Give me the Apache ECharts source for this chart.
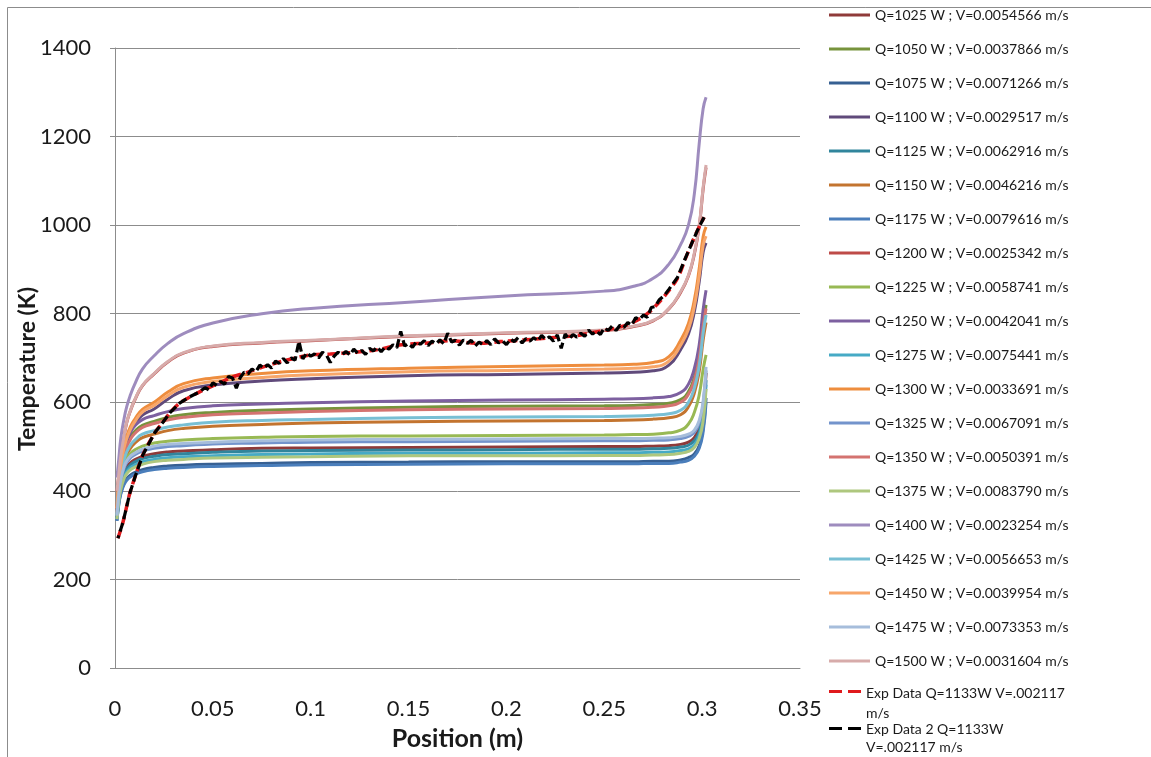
<!DOCTYPE html>
<html>
<head>
<meta charset="utf-8">
<script src="https://cdn.jsdelivr.net/npm/echarts@6/dist/echarts.min.js"></script>
<style>
  html, body { margin: 0; padding: 0; background: #ffffff; }
  #chart { width: 1151px; height: 757px; }
</style>
</head>
<body>
<div id="chart"></div>
<script>
// Axial positions (m) shared by every model curve
const POS = [0.001, 0.002, 0.003, 0.0045, 0.006, 0.008, 0.01, 0.014, 0.02, 0.027, 0.035, 0.05, 0.075, 0.1, 0.15, 0.2, 0.25,
             0.265, 0.275, 0.283, 0.289, 0.293, 0.296, 0.2985, 0.3005, 0.302];

// Model temperatures (K) for each heat input / velocity case
const T1025 = [340, 388, 416, 440, 454, 464, 470, 478, 484, 488, 490, 493, 496, 497, 498, 499, 500, 500, 501, 502, 505, 510, 520, 542, 586, 666];
const T1050 = [353, 411, 452, 484, 504, 522, 534, 548, 557, 566, 572, 577, 582, 585, 589, 591, 592, 593, 595, 598, 606, 624, 656, 706, 779, 820];
const T1075 = [333, 373, 396, 416, 428, 436, 441, 448, 453, 456, 458, 460, 462, 464, 465, 466, 466, 466, 467, 467, 470, 475, 483, 502, 541, 610];
const T1100 = [359, 417, 454, 490, 512, 534, 549, 571, 585, 607, 626, 639, 648, 653, 660, 663, 666, 668, 671, 684, 719, 754, 804, 872, 939, 960];
const T1125 = [339, 385, 413, 436, 449, 459, 465, 473, 478, 482, 484, 487, 490, 491, 492, 493, 494, 494, 495, 496, 499, 503, 513, 533, 575, 650];
const T1150 = [347, 398, 435, 463, 481, 497, 507, 520, 528, 536, 541, 546, 550, 553, 556, 558, 559, 560, 562, 565, 572, 590, 621, 670, 740, 780];
const T1175 = [332, 371, 393, 413, 424, 432, 437, 443, 448, 451, 453, 455, 457, 459, 460, 461, 461, 461, 462, 462, 465, 469, 478, 496, 533, 600];
const T1200 = [399, 439, 479, 519, 554, 582, 604, 637, 664, 691, 711, 726, 734, 739, 749, 756, 762, 771, 784, 811, 848, 885, 934, 997, 1081, 1130];
const T1225 = [345, 399, 431, 458, 474, 485, 492, 501, 508, 512, 515, 518, 521, 523, 524, 525, 526, 527, 528, 531, 537, 551, 577, 617, 674, 707];
const T1250 = [355, 417, 460, 493, 515, 533, 546, 561, 570, 579, 586, 592, 596, 599, 603, 605, 607, 608, 610, 613, 622, 641, 676, 730, 809, 853];
const T1275 = [337, 382, 408, 430, 443, 453, 458, 466, 471, 475, 477, 479, 482, 483, 485, 485, 486, 486, 487, 488, 491, 495, 504, 525, 566, 640];
const T1300 = [361, 423, 461, 500, 523, 546, 561, 584, 600, 623, 642, 655, 665, 671, 677, 681, 684, 686, 690, 703, 740, 778, 831, 902, 974, 996];
const T1325 = [343, 394, 424, 449, 464, 475, 481, 490, 496, 500, 502, 506, 508, 510, 511, 512, 513, 513, 514, 515, 518, 523, 532, 553, 596, 672];
const T1350 = [351, 409, 449, 480, 500, 517, 529, 543, 552, 560, 566, 572, 576, 579, 583, 585, 586, 587, 589, 592, 600, 618, 649, 699, 771, 812];
const T1375 = [336, 379, 404, 426, 439, 448, 453, 460, 466, 469, 471, 474, 476, 477, 479, 479, 480, 480, 481, 482, 485, 489, 498, 518, 558, 630];
const T1400 = [430, 475, 520, 560, 590, 618, 640, 675, 705, 733, 755, 779, 800, 812, 826, 840, 851, 862, 880, 912, 956, 1000, 1070, 1184, 1263, 1289];
const T1425 = [348, 402, 439, 469, 488, 504, 514, 528, 536, 544, 549, 555, 559, 561, 565, 567, 568, 569, 571, 574, 582, 600, 632, 683, 756, 797];
const T1450 = [360, 420, 458, 495, 518, 540, 555, 578, 593, 615, 634, 647, 656, 662, 669, 672, 675, 677, 680, 693, 729, 765, 816, 885, 954, 975];
const T1475 = [344, 396, 426, 453, 468, 479, 485, 494, 501, 505, 507, 510, 513, 515, 516, 517, 518, 518, 519, 520, 523, 528, 537, 559, 602, 680];
const T1500 = [400, 440, 480, 520, 555, 583, 605, 638, 665, 692, 712, 727, 735, 740, 750, 757, 763, 772, 785, 812, 850, 887, 937, 1000, 1085, 1136];

const MODEL_NAMES = [
  'Q=1025 W ; V=0.0054566 m/s', 'Q=1050 W ; V=0.0037866 m/s', 'Q=1075 W ; V=0.0071266 m/s',
  'Q=1100 W ; V=0.0029517 m/s', 'Q=1125 W ; V=0.0062916 m/s', 'Q=1150 W ; V=0.0046216 m/s',
  'Q=1175 W ; V=0.0079616 m/s', 'Q=1200 W ; V=0.0025342 m/s', 'Q=1225 W ; V=0.0058741 m/s',
  'Q=1250 W ; V=0.0042041 m/s', 'Q=1275 W ; V=0.0075441 m/s', 'Q=1300 W ; V=0.0033691 m/s',
  'Q=1325 W ; V=0.0067091 m/s', 'Q=1350 W ; V=0.0050391 m/s', 'Q=1375 W ; V=0.0083790 m/s',
  'Q=1400 W ; V=0.0023254 m/s', 'Q=1425 W ; V=0.0056653 m/s', 'Q=1450 W ; V=0.0039954 m/s',
  'Q=1475 W ; V=0.0073353 m/s', 'Q=1500 W ; V=0.0031604 m/s'
];
const MODEL_T = [T1025, T1050, T1075, T1100, T1125, T1150, T1175, T1200, T1225, T1250,
                 T1275, T1300, T1325, T1350, T1375, T1400, T1425, T1450, T1475, T1500];
const MODEL_COLORS = [
  '#8f3a39', '#77933c', '#376092', '#604a7b', '#31859c', '#c3742f', '#4a7ebb', '#be4b48', '#98b954', '#7d60a0',
  '#46aac5', '#ee8d3e', '#7394cc', '#d47370', '#aec77e', '#9e8cbe', '#78bfd4', '#f7a66a', '#a6bddb', '#d7abaa'
];

// Measured profile, run 1
const EXP1_X = [0.0015, 0.004, 0.0076, 0.0102, 0.0142, 0.0203, 0.0245, 0.028, 0.033, 0.043, 0.053, 0.06,
                0.068, 0.075, 0.0875, 0.1, 0.11, 0.12, 0.133, 0.1465, 0.16, 0.172, 0.185, 0.197, 0.21, 0.223,
                0.235, 0.245, 0.255, 0.2635, 0.272, 0.2808, 0.2874, 0.2915, 0.295, 0.2976, 0.301];
const EXP1_T = [293, 328, 395, 431, 481, 531, 555, 576, 598, 623, 643, 657,
                668, 679, 695, 707, 709, 712, 718, 730, 734, 739, 733, 737, 741, 746,
                750, 758, 767, 778, 800, 840, 880, 925, 962, 988, 1018];

// Measured profile, run 2 (noisy thermocouple trace)
const EXP2_X = [0.0015, 0.004, 0.0076, 0.0102, 0.0142, 0.0203, 0.0245, 0.028, 0.033, 0.038, 0.043,
  0.046, 0.048, 0.050, 0.052, 0.054, 0.056, 0.058, 0.060, 0.062, 0.064, 0.066, 0.068, 0.070, 0.072, 0.074,
  0.076, 0.078, 0.080, 0.082, 0.084, 0.086, 0.088, 0.090, 0.092, 0.094, 0.096, 0.098, 0.100, 0.102, 0.104,
  0.106, 0.108, 0.110, 0.112, 0.114, 0.116, 0.118, 0.120, 0.122, 0.124, 0.126, 0.128, 0.130, 0.132, 0.134,
  0.136, 0.138, 0.140, 0.142, 0.144, 0.146, 0.148, 0.150, 0.152, 0.154, 0.156, 0.158, 0.160, 0.162, 0.164,
  0.166, 0.168, 0.170, 0.172, 0.174, 0.176, 0.178, 0.180, 0.182, 0.184, 0.186, 0.188, 0.190, 0.192, 0.194,
  0.196, 0.198, 0.200, 0.202, 0.204, 0.206, 0.208, 0.210, 0.212, 0.214, 0.216, 0.218, 0.220, 0.222, 0.224,
  0.226, 0.228, 0.230, 0.232, 0.234, 0.236, 0.238, 0.240, 0.242, 0.244, 0.246, 0.248, 0.250, 0.252, 0.254,
  0.256, 0.258, 0.260, 0.262, 0.264, 0.266, 0.268, 0.270, 0.272, 0.274, 0.276, 0.278,
  0.2808, 0.283, 0.2874, 0.2915, 0.295, 0.2976, 0.301];
const EXP2_T = [293, 328, 395, 431, 481, 531, 555, 576, 598, 612, 623,
  633, 628, 644, 638, 647, 641, 658, 655, 632, 656, 668, 664, 675, 669, 684,
  677, 685, 677, 693, 688, 699, 689, 700, 695, 738, 698, 712, 704, 709, 700,
  713, 707, 690, 704, 713, 707, 715, 707, 720, 711, 717, 708, 722, 716, 725,
  714, 725, 720, 730, 723, 760, 727, 733, 724, 737, 731, 739, 728, 738, 732,
  741, 732, 756, 736, 740, 729, 741, 733, 740, 727, 736, 730, 739, 730, 743,
  734, 739, 730, 743, 737, 746, 734, 744, 738, 746, 738, 751, 742, 748, 738,
  752, 722, 754, 743, 753, 747, 756, 749, 763, 754, 761, 753, 768, 762, 772,
  762, 774, 769, 780, 774, 791, 787, 797, 792, 814, 816, 831,
  842, 855, 882, 926, 962, 988, 1018];

const EXP_NAMES = ['Exp Data Q=1133W V=.002117 m/s', 'Exp Data 2 Q=1133W V=.002117 m/s'];
const EXP_LABELS = ['Exp Data Q=1133W V=.002117\nm/s', 'Exp Data 2 Q=1133W\nV=.002117 m/s'];

const X_TICKS = [0, 0.05, 0.1, 0.15, 0.2, 0.25, 0.3, 0.35];

const FONT = 'Lato, "Noto Sans", sans-serif';

const series = MODEL_NAMES.map((name, i) => ({
  name: name,
  type: 'line',
  data: POS.map((x, k) => [x, MODEL_T[i][k]]),
  showSymbol: false,
  symbol: 'none',
  smooth: 0.5,
  lineStyle: { color: MODEL_COLORS[i], width: 3 },
  itemStyle: { color: MODEL_COLORS[i] },
  emphasis: { disabled: true }
}));

series.push({
  name: EXP_NAMES[0],
  type: 'line',
  data: EXP1_X.map((x, k) => [x, EXP1_T[k]]),
  showSymbol: false,
  symbol: 'none',
  smooth: 0.3,
  lineStyle: { color: '#e0191c', width: 3.5, type: [9, 5] },
  itemStyle: { color: '#e0191c' },
  emphasis: { disabled: true }
});
series.push({
  name: EXP_NAMES[1],
  type: 'line',
  data: EXP2_X.map((x, k) => [x, EXP2_T[k]]),
  showSymbol: false,
  symbol: 'none',
  lineStyle: { color: '#000000', width: 3.2, type: [9, 4], dashOffset: 6 },
  itemStyle: { color: '#000000' },
  emphasis: { disabled: true }
});

const legendText = { fontFamily: FONT, fontSize: 14, color: '#1a1a1a' };
// two short dashes beside the first text line; the tiny square at the bottom fixes the icon box height
const DASH_ICON_1 = 'path://M0,14h13v3h-13z M19,14h13v3h-13z M31.9,39.9h0.1v0.1h-0.1z';
const DASH_ICON_2 = 'path://M0,18h13v3h-13z M19,18h13v3h-13z M31.9,39.9h0.1v0.1h-0.1z';

const chart = echarts.init(document.getElementById('chart'), null, { renderer: 'canvas' });
chart.setOption({
  animation: false,
  backgroundColor: '#ffffff',
  graphic: [{
    type: 'rect',
    left: 5, top: 5,
    shape: { width: 1300, height: 900 },
    style: { fill: 'none', stroke: '#8c8c8c', lineWidth: 1 },
    silent: true
  }],
  grid: { left: 115, right: 351, top: 48, bottom: 89, containLabel: false, outerBoundsMode: 'none' },
  legend: [{
    orient: 'vertical',
    left: 829,
    top: 7,
    padding: 0,
    icon: 'rect',
    itemWidth: 41,
    itemHeight: 3,
    itemGap: 18,
    data: MODEL_NAMES,
    textStyle: Object.assign({ lineHeight: 16 }, legendText),
    selectedMode: false
  }, {
    orient: 'vertical',
    left: 829,
    top: 683,
    padding: 0,
    icon: DASH_ICON_1,
    itemWidth: 32,
    itemHeight: 40,
    data: [EXP_NAMES[0]],
    formatter: () => EXP_LABELS[0],
    textStyle: Object.assign({ lineHeight: 20 }, legendText),
    selectedMode: false
  }, {
    orient: 'vertical',
    left: 829,
    top: 720,
    padding: 0,
    icon: DASH_ICON_2,
    itemWidth: 32,
    itemHeight: 40,
    data: [EXP_NAMES[1]],
    formatter: () => EXP_LABELS[1],
    textStyle: Object.assign({ lineHeight: 18 }, legendText),
    selectedMode: false
  }],
  xAxis: {
    type: 'value',
    min: 0, max: 0.35, interval: 0.05,
    name: 'Position (m)',
    nameLocation: 'middle',
    nameGap: 58,
    nameMoveOverlap: false,
    nameTextStyle: { fontFamily: FONT, fontSize: 25, fontWeight: 'bold', color: '#1a1a1a' },
    axisLine: { show: true, lineStyle: { color: '#8c8c8c', width: 1 } },
    axisTick: { show: false },
    splitLine: { show: false },
    axisLabel: {
      fontFamily: FONT, fontSize: 22, color: '#1a1a1a', margin: 30,
      formatter: (v) => {
        const t = X_TICKS.find(k => Math.abs(k - v) < 1e-9);
        return t === undefined ? '' : String(t);
      }
    }
  },
  yAxis: {
    type: 'value',
    min: 0, max: 1400, interval: 200,
    name: 'Temperature (K)',
    nameLocation: 'middle',
    nameGap: 76,
    nameMoveOverlap: false,
    nameTextStyle: { fontFamily: FONT, fontSize: 23, fontWeight: 'bold', color: '#1a1a1a', padding: [0, 22, 0, 0] },
    axisLine: { show: true, lineStyle: { color: '#8c8c8c', width: 1 } },
    axisTick: { show: true, length: 5, lineStyle: { color: '#8c8c8c' } },
    splitLine: { show: true, lineStyle: { color: '#8c8c8c', width: 1 } },
    axisLabel: { fontFamily: FONT, fontSize: 22, color: '#1a1a1a', margin: 24, formatter: (v) => String(v) }
  },
  series: series
});
</script>
</body>
</html>
